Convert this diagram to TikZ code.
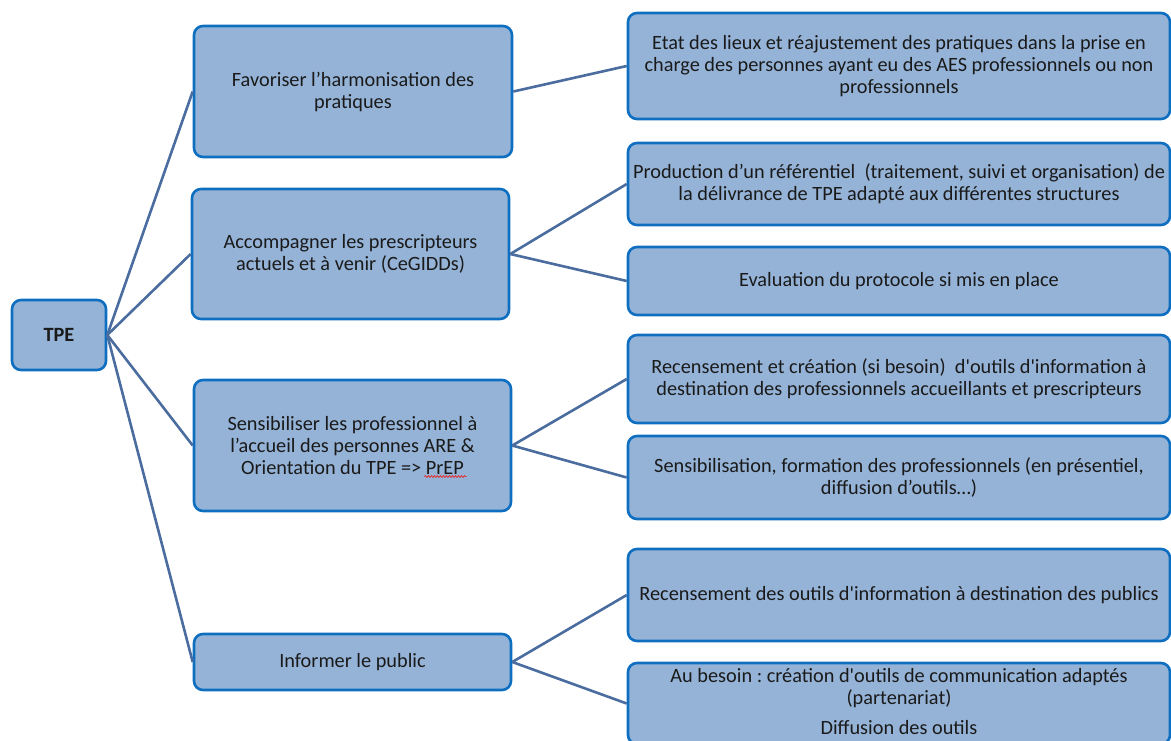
\documentclass[tikz,border=0pt]{standalone}
\usepackage{fontspec}
\setmainfont{Carlito}[Ligatures=TeXOff]
\usetikzlibrary{calc,decorations.pathmorphing}
\definecolor{boxfill}{HTML}{95B3D7}
\definecolor{boxline}{HTML}{0E6FC1}
\definecolor{linkcol}{HTML}{4A6C9E}
\definecolor{txt}{HTML}{1A1A1A}
\definecolor{spell}{HTML}{E03030}
\frenchspacing
\begin{document}
\begin{tikzpicture}[x=1pt,y=-1pt,
  box/.style={draw=boxline, fill=boxfill, line width=2.6pt, rounded corners=9pt,
    align=center, inner sep=0pt, text=txt, font=\fontsize{20.3}{22}\selectfont},
  plain/.style={align=center, inner sep=0pt, text=txt, font=\fontsize{20.3}{22}\selectfont},
  link/.style={draw=linkcol, line width=2.6pt},
  spellwave/.style={draw=spell, line width=0.8pt, decorate,
    decoration={snake, amplitude=0.9pt, segment length=3pt}}]
\useasboundingbox (0,0) rectangle (1171,740);
\clip (0,0) rectangle (1171,740);

% root
\node[box, minimum width=94pt, minimum height=70pt, font=\fontsize{20.3}{22}\selectfont\bfseries] (tpe) at (59,335) {TPE};

% second level
\node[box, minimum width=318pt, minimum height=131pt] (fav) at (353,91.5)
  {Favoriser l’harmonisation des\\pratiques};
\node[box, minimum width=317pt, minimum height=130pt] (acc) at (350.5,254)
  {Accompagner les prescripteurs\\actuels et à venir (CeGIDDs)};
\node[box, minimum width=317pt, minimum height=131pt] (sen) at (352.5,445.5)
  {Sensibiliser les professionnel à\\l’accueil des personnes ARE \&\\Orientation du TPE => PrEP};
\node[box, minimum width=317pt, minimum height=56pt] (inf) at (352.5,662)
  {Informer le public};

% third level
\node[box, minimum width=542pt, minimum height=106pt] (etat) at (899,66)
  {Etat des lieux et réajustement des pratiques dans la prise en\\charge des personnes ayant eu des AES professionnels ou non\\professionnels};
\node[box, minimum width=542pt, minimum height=82pt] (prod) at (899,184)
  {Production d’un référentiel~ (traitement, suivi et organisation) de\\la délivrance de TPE adapté aux différentes structures};
\node[box, minimum width=542pt, minimum height=68pt] (eval) at (899,281)
  {Evaluation du protocole si mis en place};
\node[box, minimum width=542pt, minimum height=88pt] (recc) at (899,379)
  {Recensement et création (si besoin)~ d'outils d'information à\\destination des professionnels accueillants et prescripteurs};
\node[box, minimum width=542pt, minimum height=83pt] (form) at (899,477.5)
  {Sensibilisation, formation des professionnels (en présentiel,\\diffusion d’outils…)};
\node[box, minimum width=542pt, minimum height=92pt] (reco) at (899,595)
  {Recensement des outils d'information à destination des publics};
\node[box, minimum width=542pt, minimum height=81pt] (besoin) at (899,703.5) {};
\node[plain, anchor=north] (besointxt) at (899,668)
  {Au besoin : création d'outils de communication adaptés\\(partenariat)\\[8pt]Diffusion des outils};

% spell-check underline under "PrEP"
\draw[spellwave] ($(sen.center)+(72,31)$) -- ++(42,0);

% connectors
\draw[link] (tpe.east) -- (fav.west);
\draw[link] (tpe.east) -- (acc.west);
\draw[link] (tpe.east) -- (sen.west);
\draw[link] (tpe.east) -- (inf.west);
\draw[link] (fav.east) -- (etat.west);
\draw[link] (acc.east) -- (prod.west);
\draw[link] (acc.east) -- (eval.west);
\draw[link] (sen.east) -- (recc.west);
\draw[link] (sen.east) -- (form.west);
\draw[link] (inf.east) -- (reco.west);
\draw[link] (inf.east) -- (besoin.west);
\end{tikzpicture}
\end{document}
